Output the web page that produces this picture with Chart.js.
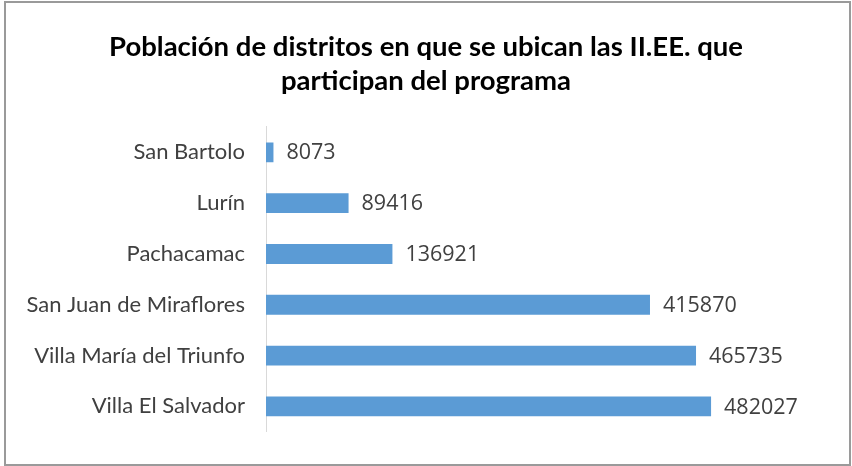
<!DOCTYPE html>
<html>
<head>
<meta charset="utf-8">
<script src="https://cdn.jsdelivr.net/npm/chart.js@4.4.1/dist/chart.umd.min.js"></script>
<style>
  html, body { margin: 0; padding: 0; background: #fff; }
  #wrap { position: relative; width: 852px; height: 466px; }
</style>
</head>
<body>
<div id="wrap"><canvas id="popChart" width="852" height="466"></canvas></div>
<script>
// Chart Data
const districts = ['San Bartolo', 'Lurín', 'Pachacamac', 'San Juan de Miraflores', 'Villa María del Triunfo', 'Villa El Salvador'];
const population = [8073, 89416, 136921, 415870, 465735, 482027];
const titleLines = ['Población de distritos en que se ubican las II.EE. que', 'participan del programa'];

const FONT = 'Lato, "Open Sans", sans-serif';

// value labels to the right of each bar
const valueLabels = {
  id: 'valueLabels',
  afterDatasetsDraw(chart) {
    const ctx = chart.ctx;
    const meta = chart.getDatasetMeta(0);
    ctx.save();
    ctx.font = '21.5px "Open Sans", sans-serif';
    ctx.fillStyle = '#404040';
    ctx.textAlign = 'left';
    ctx.textBaseline = 'middle';
    meta.data.forEach((bar, i) => {
      ctx.fillText(String(chart.data.datasets[0].data[i]), bar.x + 13, bar.y + 1);
    });
    ctx.restore();
  }
};

// outer frame
const frame = {
  id: 'frame',
  afterDraw(chart) {
    const ctx = chart.ctx;
    ctx.save();
    ctx.strokeStyle = '#9a9a9a';
    ctx.lineWidth = 2;
    ctx.strokeRect(5, 2, 845, 463);
    ctx.restore();
  }
};

document.addEventListener('DOMContentLoaded', () => {
  const ctx = document.getElementById('popChart');
  new Chart(ctx.getContext('2d'), {
    type: 'bar',
    data: {
      labels: districts,
      datasets: [{
        data: population,
        backgroundColor: '#5b9bd5',
        borderWidth: 0,
        categoryPercentage: 1,
        barPercentage: 0.39
      }]
    },
    options: {
      indexAxis: 'y',
      responsive: false,
      animation: false,
      layout: { padding: { left: 20, right: 20, top: 0, bottom: 29 } },
      plugins: {
        legend: { display: false },
        tooltip: { enabled: false },
        title: {
          display: true,
          text: titleLines,
          color: '#000',
          font: { family: FONT, size: 27.5, weight: 'bold', lineHeight: 1.23 },
          padding: { top: 30, bottom: 29.3 }
        }
      },
      scales: {
        x: {
          display: false,
          min: 0,
          max: 613000
        },
        y: {
          grid: { display: false, drawTicks: false },
          border: { display: true, color: '#d9d9d9', width: 1 },
          ticks: {
            color: '#404040',
            font: { family: FONT, size: 22 },
            padding: 21
          },
          afterFit(scale) { scale.width = 246; }
        }
      }
    },
    plugins: [valueLabels, frame]
  });
});
</script>
</body>
</html>
